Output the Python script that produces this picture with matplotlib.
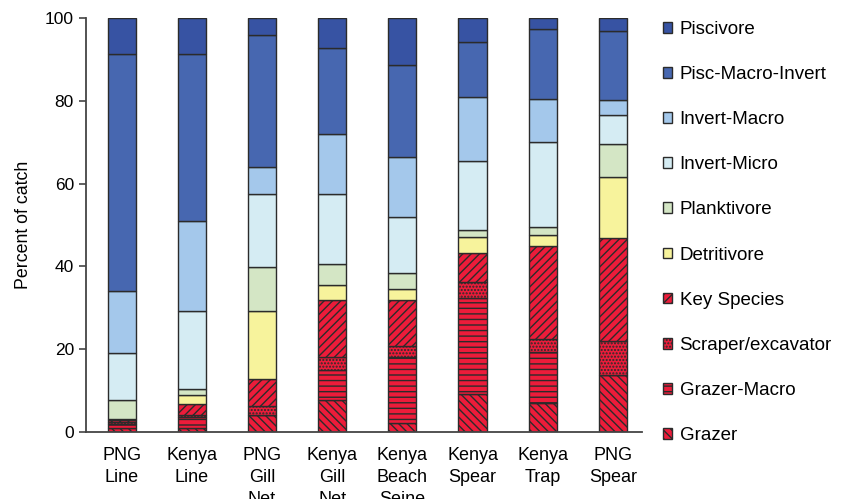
import numpy as np
import matplotlib.pyplot as plt
from matplotlib.patches import Patch

plt.rcParams['font.family'] = ['Liberation Sans', 'DejaVu Sans']
plt.rcParams['hatch.linewidth'] = 1.0

# fisheries (x axis) and trophic groups, stacked from the bottom up
fisheries = ['PNG\nLine', 'Kenya\nLine', 'PNG\nGill\nNet', 'Kenya\nGill\nNet',
             'Kenya\nBeach\nSeine', 'Kenya\nSpear', 'Kenya\nTrap', 'PNG\nSpear']
groups = ['Grazer', 'Grazer-Macro', 'Scraper/excavator', 'Key Species',
          'Detritivore', 'Planktivore', 'Invert-Micro', 'Invert-Macro',
          'Pisc-Macro-Invert', 'Piscivore']

# percent of catch per group, one list per group, one value per fishery
grazer = [0.9, 1.0, 4.1, 7.7, 2.1, 9.2, 7.1, 13.7]
grazer_macro = [1.0, 2.6, 0.0, 7.3, 16.1, 23.1, 12.3, 0.0]
scraper = [0.6, 0.5, 2.3, 3.2, 2.7, 3.9, 3.2, 8.4]
key_species = [0.4, 2.7, 6.4, 13.8, 11.1, 7.1, 22.4, 24.8]
detritivore = [0.2, 2.2, 16.5, 3.5, 2.6, 3.7, 2.5, 14.7]
planktivore = [4.6, 1.5, 10.6, 5.2, 3.9, 1.9, 2.1, 8.0]
invert_micro = [11.4, 18.8, 17.7, 16.9, 13.5, 16.6, 20.4, 7.0]
invert_macro = [15.0, 21.6, 6.4, 14.5, 14.4, 15.5, 10.5, 3.6]
pisc_macro_invert = [57.2, 40.4, 32.0, 20.7, 22.2, 13.1, 16.9, 16.7]
piscivore = [8.7, 8.7, 4.0, 7.2, 11.4, 5.9, 2.6, 3.1]

series = [grazer, grazer_macro, scraper, key_species, detritivore,
          planktivore, invert_micro, invert_macro, pisc_macro_invert, piscivore]

red = '#ec1c3a'
colors = [red, red, red, red, '#f7f39c', '#d4e6c5', '#d5ecf3', '#a4c8eb',
          '#4767b0', '#3753a3']
hatches = ['\\\\\\\\', '---', '.....', '////', None, None, None, None, None, None]
edge = '#2b2b2b'

fig = plt.figure(figsize=(8.41, 4.99), dpi=100)
ax = fig.add_axes([0.102, 0.134, 0.661, 0.830])

x = np.arange(len(fisheries))
bottom = np.zeros(len(fisheries))
for vals, col, hat, name in zip(series, colors, hatches, groups):
    vals = np.array(vals)
    ax.bar(x, vals, 0.4, bottom=bottom, color=col, edgecolor=edge,
           linewidth=1.0, hatch=hat, label=name)
    bottom += vals

ax.set_xlim(-0.51, 7.41)
ax.set_ylim(0, 100)
ax.set_yticks([0, 20, 40, 60, 80, 100])
ax.set_xticks(x)
ax.set_xticklabels(fisheries, fontsize=13, linespacing=1.38, va='top')
ax.tick_params(axis='x', length=0, pad=11)
ax.tick_params(axis='y', labelsize=12.5, length=5, width=1.2, color='#444444')
ax.set_ylabel('Percent of catch', fontsize=12.8, labelpad=9)
for s in ['top', 'right']:
    ax.spines[s].set_visible(False)
for s in ['left', 'bottom']:
    ax.spines[s].set_color('#444444')
    ax.spines[s].set_linewidth(1.3)

handles = [Patch(facecolor=c, edgecolor=edge, hatch=h, linewidth=1.0)
           for c, h in zip(colors, hatches)][::-1]
fig.legend(handles, groups[::-1], loc='upper left',
           bbox_to_anchor=(0.788, 0.958), frameon=False, fontsize=13.5,
           handlelength=0.5, handleheight=0.5, handletextpad=0.4,
           labelspacing=1.5, borderpad=0, borderaxespad=0)

plt.savefig('out.png', dpi=100)
